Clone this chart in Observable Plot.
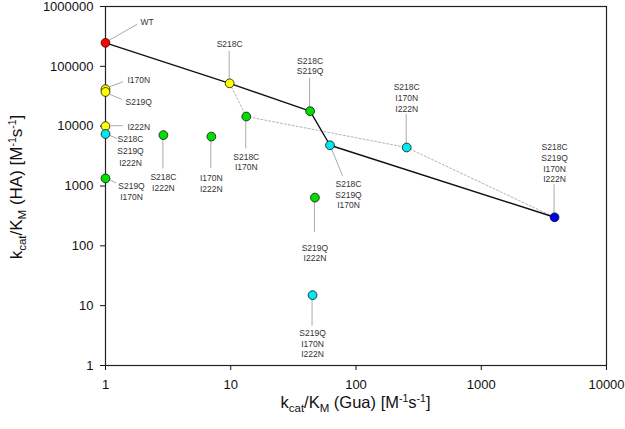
<!DOCTYPE html>
<html>
<head>
<meta charset="utf-8">
<script src="https://cdn.jsdelivr.net/npm/d3@7"></script>
<script src="https://cdn.jsdelivr.net/npm/@observablehq/plot@0.6"></script>
<style>
  html, body { margin: 0; padding: 0; background: #fff; }
  #chart svg { display: block; }
</style>
</head>
<body>
<div id="chart"></div>
<script>
// ---- data ----
const mutants = [
  "WT", "I170N", "S219Q", "I222N",
  "S218C\nS219Q\nI222N", "S219Q\nI170N", "S218C\nI222N", "I170N\nI222N",
  "S218C", "S218C\nI170N", "S218C\nS219Q", "S218C\nS219Q\nI170N",
  "S218C\nI170N\nI222N", "S218C\nS219Q\nI170N\nI222N", "S219Q\nI222N", "S219Q\nI170N\nI222N"
];
const guaValues = [1, 1, 1, 1, 1, 1, 2.9, 7, 9.8, 13.3, 43, 62, 254, 3850, 47, 45];
const haValues = [247000, 41500, 37300, 10000, 7400, 1340, 7100, 6700, 52000, 14500, 17800, 4800, 4400, 300, 640, 15];
const mutationCount = [0, 1, 1, 1, 3, 2, 2, 2, 1, 2, 2, 3, 3, 4, 2, 3];

const solidPath = ["WT", "S218C", "S218C\nS219Q", "S218C\nS219Q\nI170N", "S218C\nS219Q\nI170N\nI222N"];
const dottedPath = ["S218C", "S218C\nI170N", "S218C\nI170N\nI222N", "S218C\nS219Q\nI170N\nI222N"];

const xTicks = [1, 10, 100, 1000, 10000];
const yTicks = [1, 10, 100, 1000, 10000, 100000, 1000000];
const countColors = ["#ff0000", "#ffff00", "#00e000", "#00e8f0", "#0000f0"];

// ---- label layout (pixel offsets from each point; style only) ----
// leader: [x1, y1, x2, y2]; text: dx, dy (block centre), anchor, lineHeight (em)
const labelLayout = [
  {leader: [4, -2, 32, -18], dx: 35, dy: -21, anchor: "start", lh: 1.26},
  {leader: [5, -2, 18, -7], dx: 22, dy: -10, anchor: "start", lh: 1.26},
  {leader: [5, 3, 17, 8], dx: 20, dy: 10, anchor: "start", lh: 1.26},
  {leader: [6, 0, 18, 0], dx: 22, dy: 0, anchor: "start", lh: 1.26},
  {leader: [5, 2, 12, 5], dx: 25, dy: 16, anchor: "middle", lh: 1.41},
  {leader: [5, 2, 11, 5], dx: 26, dy: 12.5, anchor: "middle", lh: 1.3},
  {leader: [0, 4, 0, 34], dx: 0, dy: 47, anchor: "middle", lh: 1.3},
  {leader: [0, 4, 0, 32], dx: 0, dy: 46, anchor: "middle", lh: 1.3},
  {leader: [0, -4, 0, -32], dx: 0, dy: -39.5, anchor: "middle", lh: 1.26},
  {leader: [0, 4, 0, 32.5], dx: 0, dy: 45, anchor: "middle", lh: 1.2},
  {leader: [0, -4, 0, -33], dx: 0, dy: -45.5, anchor: "middle", lh: 1.26},
  {leader: [2, 4, 13, 31], dx: 18.5, dy: 49, anchor: "middle", lh: 1.26},
  {leader: [0, -4, 0, -33], dx: 0, dy: -50, anchor: "middle", lh: 1.26},
  {leader: [0, -4, 0, -32.5], dx: 0, dy: -54.5, anchor: "middle", lh: 1.26},
  {leader: [0, 4, 0, 35], dx: 0, dy: 55, anchor: "middle", lh: 1.26},
  {leader: [0, 4, 0, 31], dx: 0, dy: 48, anchor: "middle", lh: 1.26}
];

const points = mutants.map((m, i) => ({mutant: m, gua: guaValues[i], ha: haValues[i], n: mutationCount[i]}));
const byName = new Map(points.map(p => [p.mutant, p]));
const solidData = solidPath.map(n => byName.get(n));
const dottedData = dottedPath.map(n => byName.get(n));

const FONT = "'Liberation Sans', Arial, Helvetica, sans-serif";

const plot = Plot.plot({
  width: 625,
  height: 429,
  marginLeft: 105,
  marginRight: 19,
  marginTop: 6,
  marginBottom: 64,
  style: {fontFamily: FONT, fontSize: "13px", color: "#111", background: "#fff"},
  x: {type: "log", domain: [1, 10000], ticks: xTicks, tickFormat: d => String(d), tickSize: 5, tickPadding: 9, label: null},
  y: {type: "log", domain: [1, 1000000], ticks: yTicks, tickFormat: d => String(d), tickSize: 5, tickPadding: 7, label: null},
  color: {type: "ordinal", domain: [0, 1, 2, 3, 4], range: countColors},
  marks: [
    Plot.frame({stroke: "#222", strokeWidth: 1.2}),
    Plot.line(dottedData, {x: "gua", y: "ha", stroke: "#aaa", strokeWidth: 0.9, strokeDasharray: "2,2"}),
    Plot.line(solidData, {x: "gua", y: "ha", stroke: "#111", strokeWidth: 1.4}),
    Plot.dot(points, {x: "gua", y: "ha", r: 4.4, fill: "n", stroke: "#111", strokeWidth: 0.8}),
    ...points.map((p, i) => Plot.text([p], {
      x: "gua", y: "ha", text: "mutant",
      dx: labelLayout[i].dx, dy: labelLayout[i].dy,
      textAnchor: labelLayout[i].anchor, lineAnchor: "middle",
      lineHeight: labelLayout[i].lh, fontSize: 8.5, fill: "#333"
    }))
  ]
});

document.getElementById("chart").appendChild(plot);

// leader lines, positioned through the plot's own scales
const sx = plot.scale("x"), sy = plot.scale("y");
const svg = d3.select(plot);
const leaders = svg.insert("g", 'g[aria-label="dot"]').attr("stroke", "#aaa").attr("stroke-width", 1);
points.forEach((p, i) => {
  const px = sx.apply(p.gua), py = sy.apply(p.ha);
  const l = labelLayout[i].leader;
  leaders.append("line")
    .attr("x1", px + l[0]).attr("y1", py + l[1])
    .attr("x2", px + l[2]).attr("y2", py + l[3]);
});

// axis titles with sub/superscripts
function richText(sel, parts) {
  parts.forEach(([t, kind]) => {
    const ts = sel.append("tspan").text(t);
    if (kind === "sub") ts.attr("font-size", 11.5).attr("dy", 4);
    if (kind === "sup") ts.attr("font-size", 10.5).attr("dy", -6.5);
    if (kind === "back-sub") ts.attr("dy", -4);
    if (kind === "back-sup") ts.attr("dy", 6.5);
  });
}
const xTitle = svg.append("text")
  .attr("x", (105 + 606) / 2).attr("y", 408)
  .attr("text-anchor", "middle").attr("font-size", 16.5).attr("fill", "#111")
  .attr("font-family", FONT);
richText(xTitle, [["k"], ["cat", "sub"], ["/K", "back-sub"], ["M", "sub"], [" (Gua) [M", "back-sub"], ["-1", "sup"], ["s", "back-sup"], ["-1", "sup"], ["]", "back-sup"]]);

const yTitle = svg.append("text")
  .attr("transform", "translate(22,187) rotate(-90)")
  .attr("text-anchor", "middle").attr("font-size", 17).attr("fill", "#111")
  .attr("font-family", FONT);
richText(yTitle, [["k"], ["cat", "sub"], ["/K", "back-sub"], ["M", "sub"], [" (HA) [M", "back-sub"], ["-1", "sup"], ["s", "back-sup"], ["-1", "sup"], ["]", "back-sup"]]);
</script>
</body>
</html>
